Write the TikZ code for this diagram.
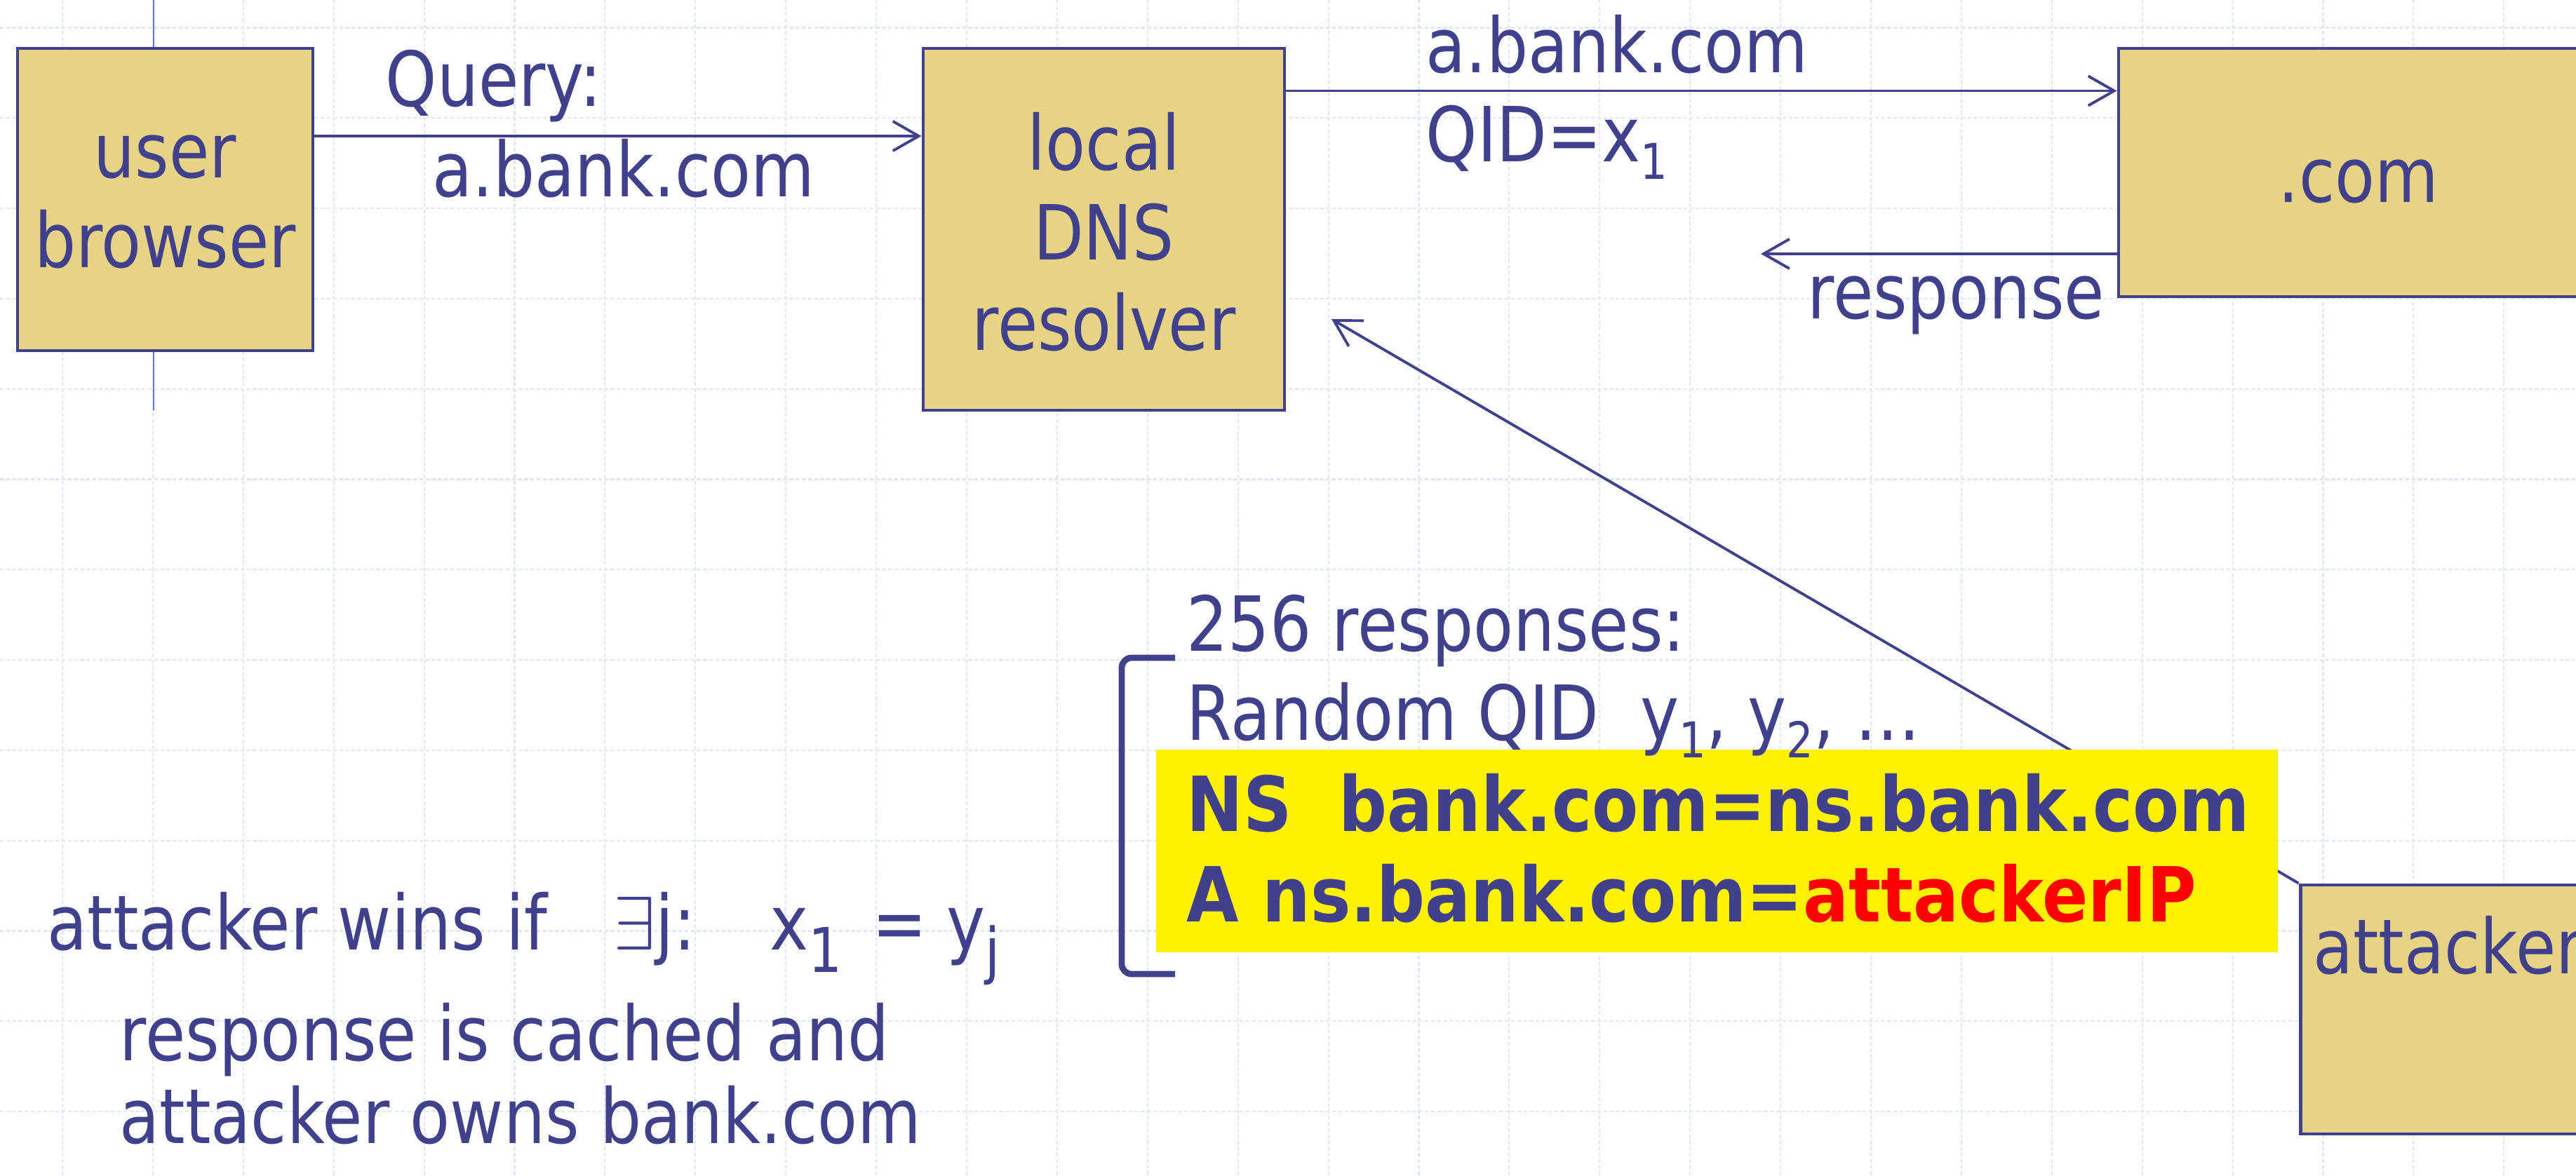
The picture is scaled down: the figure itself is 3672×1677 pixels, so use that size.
\RequirePackage{fix-cm}
\documentclass[tikz,border=0pt]{standalone}
\usepackage{fontspec}
\setmainfont{DejaVu Sans}[UprightFeatures={FakeStretch=0.86}, BoldFeatures={FakeStretch=0.89}]
\usetikzlibrary{arrows.meta,fit}
\definecolor{ink}{RGB}{64,64,140}
\definecolor{boxfill}{RGB}{230,212,132}
\definecolor{gridcol}{RGB}{224,229,247}
\definecolor{rail}{RGB}{100,118,228}
\newcommand\sub[1]{\raisebox{-7pt}{\fontsize{20}{20}\selectfont#1}}
\newcommand\bigsub[1]{\raisebox{-9pt}{\fontsize{25}{25}\selectfont#1}}
\tikzset{
  srv/.style={draw=ink, line width=1.4pt, fill=boxfill, inner sep=0pt},
  lbl/.style={text=ink, inner sep=0pt, font=\fontsize{30.8}{36.6}\selectfont},
  boxtext/.style={lbl, align=center, yshift=-2.2mm,
    execute at begin node=\strut, execute at end node=\strut},
  msg/.style={draw=ink, line width=1.1pt, -{Straight Barb[length=10.5pt,width=12pt]}},
  bg/.style={gridcol, line width=0.6pt, dash pattern=on 1.5pt off 1pt}
}
\begin{document}
\begin{tikzpicture}[x=0.01cm, y=-0.01cm]
\useasboundingbox (0,0) rectangle (3672,1677);
\clip (0,0) rectangle (3672,1677);

% slide grid
\foreach \i in {0,...,27}
  \draw[bg] ({89+128.9*\i},0) -- ({89+128.9*\i},1677);
\foreach \j in {0,...,12}
  \draw[bg] (0,{39.5+128.8*\j}) -- (3672,{39.5+128.8*\j});
\draw[rail, line width=0.8pt] (219,0) -- (219,585);

% servers
\node[srv, fit={(25,69) (446,500)}] (ub) {};
\node[srv, fit={(1316,69) (1831,585)}] (dns) {};
\node[srv, fit={(3020,69) (3704,423)}] (com) {};
\node[srv, fit={(3279,1262) (3704,1617)}] (att) {};

\node[boxtext] (ubtxt) at (ub.center) {user\\browser};
\node[boxtext] (dnstxt) at (dns.center) {local\\DNS\\resolver};
\node[boxtext, yshift=0.5mm] (comtxt) at (com.center) {.com};
\node[lbl, anchor=base west] (atttxt) at ([shift={(20,129)}]att.north west) {attacker};

% messages
\draw[msg] (ub.north east) ++(0,127.5) coordinate (q) -- (q -| dns.west);
\draw[msg] (dns.north east) ++(0,63) coordinate (r) -- (r -| com.west);
\coordinate (back) at (2510,362);
\draw[msg] (back -| com.west) -- (back);
\coordinate (hit) at (1898,455);
\draw[msg] (att.north west) -- (hit);

\node[lbl, anchor=base west] (qry) at (549,152) {Query:};
\node[lbl, anchor=base west] (qname) at (616,281) {a.bank.com};
\node[lbl, anchor=base west] (fwd) at (2032,104) {a.bank.com};
\node[lbl, anchor=base west] (qid) at (2032,231) {QID=x\sub{1}};
\node[lbl, anchor=base west] (resp) at (2576,455) {response};

% forged responses
\node[fit={(1648,1069) (3247,1358)}, fill=yellow, inner sep=0pt] (spoof) {};
\draw[ink, line width=2.5pt, rounded corners=4pt] (1675,938) -- (1599,938) -- (1599,1389) -- (1675,1389);
\node[lbl, anchor=base west] (cnt) at (1691,929) {256 responses:};
\node[lbl, anchor=base west] (rnd) at (1691,1056) {Random QID\ \ y\sub{1}, y\sub{2}, …};
\node[lbl, anchor=base west, font=\fontsize{30.8}{36.6}\selectfont\bfseries] (nsrec) at (1691,1186) {NS\ \ bank.com=ns.bank.com};
\node[lbl, anchor=base west, font=\fontsize{30.8}{36.6}\selectfont\bfseries] (arec) at (1691,1315) {A ns.bank.com=\textcolor{red}{attackerIP}};

\node[lbl, anchor=base west] (win) at (67,1355) {attacker wins if\hspace{27pt}$\exists$j:\hspace{30pt}x\bigsub{1}\hspace{12pt}=\hspace{8pt}y\bigsub{j}};
\node[lbl, anchor=base west] (cache) at (170,1512) {response is cached and};
\node[lbl, anchor=base west] (own) at (170,1630) {attacker owns bank.com};
\end{tikzpicture}
\end{document}
